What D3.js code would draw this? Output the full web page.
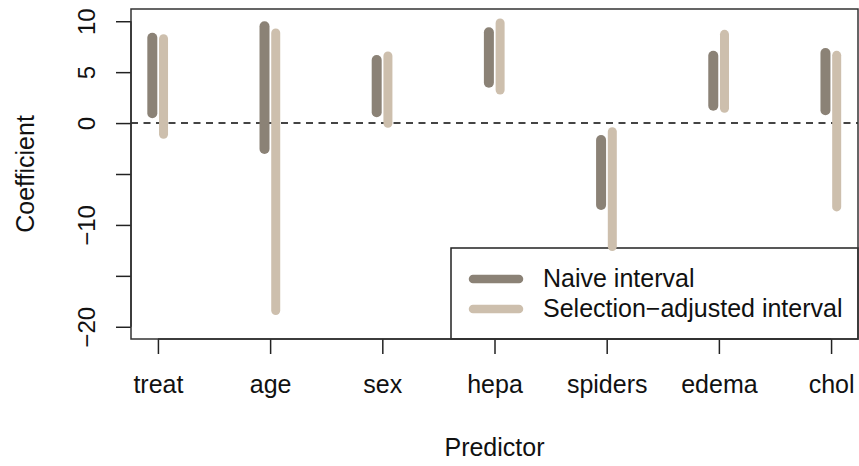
<!DOCTYPE html>
<meta charset="utf-8">
<script src="https://d3js.org/d3.v7.min.js"></script>
<style>
  body { margin: 0; background: #fff; }
  text { font-family: "Liberation Sans", Arial, Helvetica, sans-serif; fill: #111; }
</style>
<div id="chart"></div>
<script>

// Predictors and interval end points
var predictors = ["treat", "age", "sex", "hepa", "spiders", "edema", "chol"];
var naiveLower = [0.96, -2.54, 1.06, 3.97, -8.04, 1.71, 1.26];
var naiveUpper = [8.38, 9.50, 6.19, 8.91, -1.66, 6.61, 6.88];
var adjLower   = [-1.10, -18.4, -0.02, 3.25, -12.13, 1.45, -8.23];
var adjUpper   = [8.28, 8.84, 6.58, 9.82, -0.84, 8.71, 6.65];
var yTicks = [-20, -15, -10, -5, 0, 5, 10];
var yLabelled = [-20, -10, 0, 5, 10];
var legendLabels = ["Naive interval", "Selection\u2212adjusted interval"];

var W = 859, H = 466;
var naiveCol = "#8b8276", adjCol = "#cdbfad";
var plot = {left: 131, right: 858, top: 9, bottom: 339};

var svg = d3.select("#chart").append("svg")
    .attr("width", W)
    .attr("height", H);

// R style: 4% padding around xlim = [1,7] and ylim = [-20,10]
var x = d3.scaleLinear().domain([1 - 0.24, 7 + 0.24]).range([plot.left, plot.right]);
var y = d3.scaleLinear().domain([-20 - 1.2, 10 + 1.2]).range([plot.bottom, plot.top]);

// zero reference line
svg.append("line")
    .attr("x1", plot.left).attr("x2", plot.right)
    .attr("y1", y(0)).attr("y2", y(0))
    .attr("stroke", "#444")
    .attr("stroke-width", 2)
    .attr("stroke-dasharray", "7,5.5");

// legend box goes under the bars (no fill)
var leg = svg.append("g");
leg.append("rect")
    .attr("x", 451).attr("y", 248)
    .attr("width", plot.right - 451)
    .attr("height", plot.bottom - 248)
    .attr("fill", "none")
    .attr("stroke", "#222")
    .attr("stroke-width", 1.5);

// intervals
var rows = predictors.map(function(p, i) {
    return {name: p, i: i + 1, nl: naiveLower[i], nu: naiveUpper[i], al: adjLower[i], au: adjUpper[i]};
});
var off = 0.05;

svg.selectAll(".naive")
    .data(rows)
    .enter().append("line")
    .attr("class", "naive")
    .attr("x1", function(d) { return x(d.i - off); })
    .attr("x2", function(d) { return x(d.i - off); })
    .attr("y1", function(d) { return y(d.nl); })
    .attr("y2", function(d) { return y(d.nu); })
    .attr("stroke", naiveCol)
    .attr("stroke-width", 10)
    .attr("stroke-linecap", "round");

svg.selectAll(".adj")
    .data(rows)
    .enter().append("line")
    .attr("class", "adj")
    .attr("x1", function(d) { return x(d.i + off); })
    .attr("x2", function(d) { return x(d.i + off); })
    .attr("y1", function(d) { return y(d.al); })
    .attr("y2", function(d) { return y(d.au); })
    .attr("stroke", adjCol)
    .attr("stroke-width", 9)
    .attr("stroke-linecap", "round");

// y axis
var yAxis = svg.append("g")
    .attr("transform", "translate(" + plot.left + ",0)")
    .call(d3.axisLeft(y).tickValues(yTicks).tickSize(15)
        .tickFormat(function(d) { return yLabelled.indexOf(d) >= 0 ? d3.format("d")(d) : ""; }));
yAxis.select(".domain").attr("stroke", "#222").attr("stroke-width", 1.5)
    .attr("d", "M0," + y(10) + "V" + y(-20));
yAxis.selectAll(".tick line").attr("stroke", "#222").attr("stroke-width", 1.5);
yAxis.selectAll(".tick text")
    .attr("transform", "rotate(-90)")
    .attr("x", 0).attr("y", -36).attr("dy", 0)
    .attr("text-anchor", "middle")
    .style("font-size", "24px")
    .attr("fill", "#111");

// x axis
var xAxis = svg.append("g")
    .attr("transform", "translate(0," + plot.bottom + ")")
    .call(d3.axisBottom(x).tickValues(d3.range(1, predictors.length + 1)).tickSize(15)
        .tickFormat(function(d) { return predictors[d - 1]; }));
xAxis.select(".domain").attr("stroke", "#222").attr("stroke-width", 1.5)
    .attr("d", "M" + x(1) + ",0H" + x(7));
xAxis.selectAll(".tick line").attr("stroke", "#222").attr("stroke-width", 1.5);
xAxis.selectAll(".tick text")
    .attr("y", 54).attr("dy", 0)
    .style("font-size", "25px")
    .attr("fill", "#111");

// plot box
svg.append("rect")
    .attr("x", plot.left).attr("y", plot.top)
    .attr("width", plot.right - plot.left)
    .attr("height", plot.bottom - plot.top)
    .attr("fill", "none")
    .attr("stroke", "#333")
    .attr("stroke-width", 1.5);

// axis titles
svg.append("text")
    .attr("x", (plot.left + plot.right) / 2)
    .attr("y", 456)
    .attr("text-anchor", "middle")
    .style("font-size", "25px")
    .text("Predictor");

svg.append("text")
    .attr("transform", "translate(34," + (plot.top + plot.bottom) / 2 + ") rotate(-90)")
    .attr("text-anchor", "middle")
    .style("font-size", "25px")
    .text("Coefficient");

// legend entries
var legCols = [naiveCol, adjCol];
legendLabels.forEach(function(lab, i) {
    var ly = 279 + i * 30;
    leg.append("line")
        .attr("x1", 473).attr("x2", 519)
        .attr("y1", ly).attr("y2", ly)
        .attr("stroke", legCols[i])
        .attr("stroke-width", 8.5)
        .attr("stroke-linecap", "round");
    leg.append("text")
        .attr("x", 543)
        .attr("y", ly + 8)
        .style("font-size", "25px")
        .text(lab);
});

</script>
